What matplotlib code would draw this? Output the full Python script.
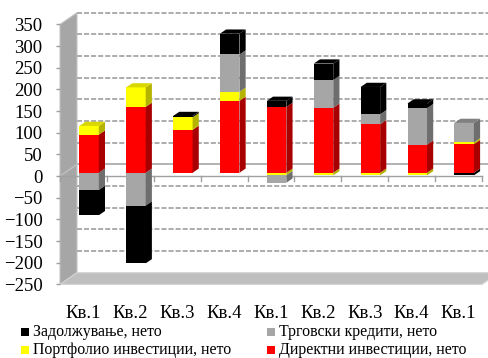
import matplotlib.pyplot as plt
from matplotlib.patches import Polygon, Rectangle

plt.rcParams['font.family'] = ['Liberation Serif', 'DejaVu Serif']

quarters = ['Кв.1', 'Кв.2', 'Кв.3', 'Кв.4', 'Кв.1', 'Кв.2', 'Кв.3', 'Кв.4', 'Кв.1']
direct = [88, 152, 99, 166, 152, 150, 112, 65, 66]
portfolio = [20, 45, 29, 21, -6, -6, -6, -6, 4]
trade = [-40, -76, 0, 86, -17, 64, 23, 84, 45]
debt = [-58, -133, 3, 48, 14, 38, 63, 11, -6]
yticks = list(range(-250, 351, 50))

series = [direct, portfolio, trade, debt]
front = ['#ff0000', '#ffff00', '#a6a6a6', '#000000']
side = ['#a80000', '#b4b400', '#6e6e6e', '#000000']
topc = ['#d00000', '#d8d800', '#808080', '#000000']

W, H = 489, 358
fig = plt.figure(figsize=(W / 100, H / 100), dpi=100)
# front plane of the fake 3d box, in pixels
x0, x1, y350, ym250 = 60, 482, 24.4, 284.4
ax = fig.add_axes([x0 / W, 1 - ym250 / H, (x1 - x0) / W, (ym250 - y350) / H])
ax.set_xlim(0, 9)
ax.set_ylim(-250, 350)
ax.patch.set_visible(False)
for s in ax.spines.values():
    s.set_visible(False)

px_x = 9 / (x1 - x0)
px_y = 600 / (ym250 - y350)
box_dx, box_dy = 17 * px_x, 11.7 * px_y
bar_dx, bar_dy = 6.2 * px_x, 4.2 * px_y
bar_w = 19.5 * px_x
bar_shift = 5.6 * px_x
base = 3.3 * px_y
xright = 10

# walls and floor
ax.add_patch(Polygon([(0, 350), (box_dx, 350 + box_dy), (box_dx, -250 + box_dy), (0, -250)],
                     fc='#a6a6a6', ec='#c4c4c4', lw=0.8, clip_on=False, zorder=1))
ax.add_patch(Polygon([(0, -250), (box_dx, -250 + box_dy), (9 + box_dx, -250 + box_dy), (9, -250)],
                     fc='#bfbfbf', ec='#d4d4d4', lw=0.8, clip_on=False, zorder=1))

for v in yticks[1:]:
    if v == 0:
        ax.plot([box_dx, xright], [box_dy, box_dy], color='#a6a6a6', lw=1.2, clip_on=False, zorder=1)
    else:
        ax.plot([box_dx, xright], [v + box_dy, v + box_dy], color='#a6a6a6', lw=1.3,
                ls=(0, (2.8, 1.1)), clip_on=False, zorder=1)
ax.plot([0, box_dx], [0, box_dy], color='#c0c0c0', lw=1, clip_on=False, zorder=1)

# front zero axis with tick marks between the quarters
ax.plot([0, 9], [0, 0], color='#a0a0a0', lw=1, clip_on=False, zorder=1.5)
for i in range(10):
    ax.plot([i, i], [0, -11], color='#a0a0a0', lw=1, clip_on=False, zorder=1.5)


def draw_segment(i, lo, hi, k, top=False):
    c = i + 0.5 + bar_shift
    left, right = c - bar_w / 2, c + bar_w / 2
    ax.bar(c, hi - lo, bar_w, bottom=lo + base, color=front[k], clip_on=False, zorder=3)
    ax.add_patch(Polygon([(right, lo + base), (right + bar_dx, lo + base + bar_dy),
                          (right + bar_dx, hi + base + bar_dy), (right, hi + base)],
                         fc=side[k], ec='none', clip_on=False, zorder=3))
    if top:
        ax.add_patch(Polygon([(left, hi + base), (left + bar_dx, hi + base + bar_dy),
                              (right + bar_dx, hi + base + bar_dy), (right, hi + base)],
                             fc=topc[k], ec='none', clip_on=False, zorder=3))


for i in range(len(quarters)):
    # negative stack first, it sits behind the positive one
    neg = 0
    for k, vals in enumerate(series):
        if vals[i] < 0:
            draw_segment(i, neg + vals[i], neg, k)
            neg += vals[i]
    pos = 0
    last = max(k for k, vals in enumerate(series) if vals[i] > 0)
    for k, vals in enumerate(series):
        if vals[i] > 0:
            draw_segment(i, pos, pos + vals[i], k, top=(k == last))
            pos += vals[i]

ax.set_yticks(yticks)
ax.tick_params(axis='y', labelsize=13.5, length=3, width=1, color='#a0a0a0', pad=9.5)
ax.set_xticks([i + 0.5 for i in range(9)])
ax.set_xticklabels(quarters, fontsize=13.5)
ax.tick_params(axis='x', length=0, pad=15)

# legend
leg_labels = ['Задолжување, нето', 'Трговски кредити, нето',
              'Портфолио инвестиции, нето', 'Директни инвестиции, нето']
leg_colors = ['#000000', '#a6a6a6', '#ffff00', '#ff0000']
leg_x = [21, 267, 21, 267]
leg_y = [332, 332, 350, 350]
for lab, col, lx, ly in zip(leg_labels, leg_colors, leg_x, leg_y):
    fig.add_artist(Rectangle((lx / W, 1 - (ly + 4) / H), 8 / W, 8 / H, fc=col, ec='none',
                             transform=fig.transFigure))
    fig.text((lx + 12) / W, 1 - ly / H, lab, fontsize=11.4, va='center', ha='left')

fig.savefig('out.png', dpi=100)
